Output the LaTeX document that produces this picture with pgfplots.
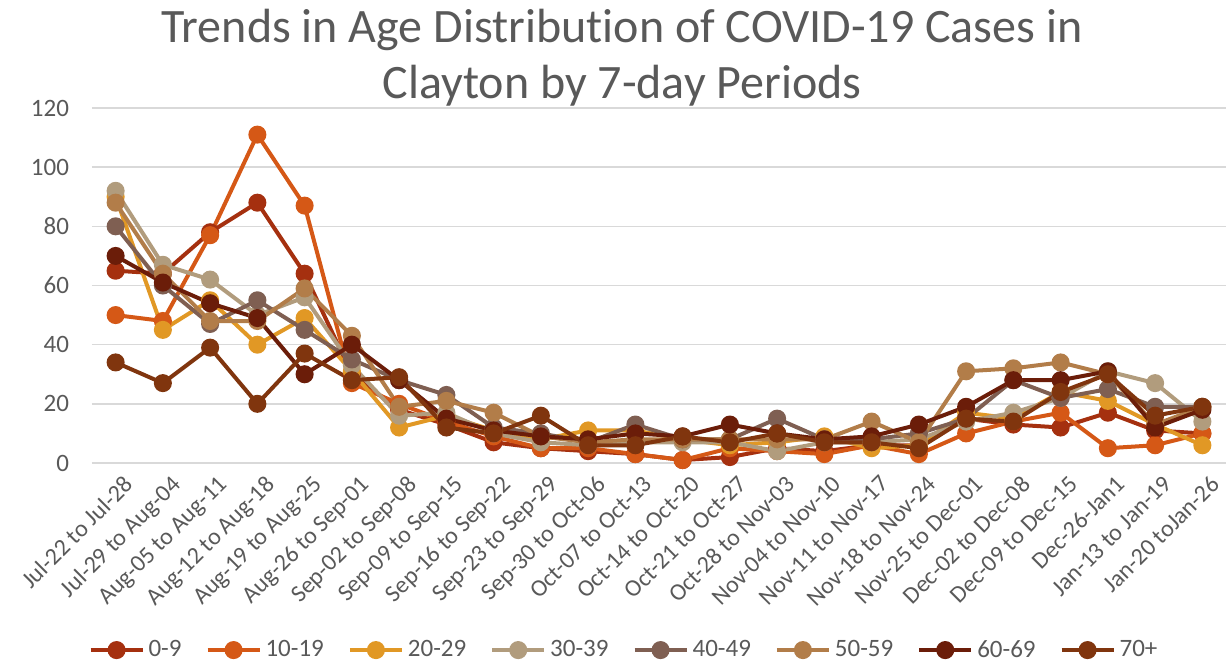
\documentclass[border=0pt]{standalone}
\usepackage{pgfplots}
\pgfplotsset{compat=1.18}
\usepackage{pgfplotstable}
\usepackage{fontspec}
\setmainfont{Carlito}[Ligatures=NoCommon]

\definecolor{txt}{HTML}{595959}
\definecolor{gridc}{HTML}{D9D9D9}
\definecolor{cA}{HTML}{A5300F}
\definecolor{cB}{HTML}{D55816}
\definecolor{cC}{HTML}{E19825}
\definecolor{cD}{HTML}{B19C7D}
\definecolor{cE}{HTML}{7F5F52}
\definecolor{cF}{HTML}{B27D49}
\definecolor{cG}{HTML}{6B1D09}
\definecolor{cH}{HTML}{80350E}

% weekly case counts by age group
\pgfplotstableread{
x  a   b   c   d   e   f   g   h
0  65  50  90  92  80  88  70  34
1  64  48  45  67  60  64  61  27
2  78  77  55  62  47  48  54  39
3  88  111 40  50  55  48  49  20
4  64  87  49  56  45  59  30  37
5  30  27  31  33  35  43  40  28
6  18  20  12  16  28  19  28  29
7  13  14  16  17  23  21  15  12
8  7   9   11  10  12  17  11  10
9  5   5   8   7   10  9   9   16
10 4   5   11  6   7   7   8   6
11 3   3   11  7   13  8   10  6
12 1   1   8   7   8   8   9   9
13 2   5   6   7   8   8   13  7
14 5   4   7   4   15  8   10  10
15 4   3   9   7   8   8   8   7
16 6   6   5   7   8   14  9   7
17 6   3   6   8   10  7   13  5
18 15  10  17  14  15  31  19  15
19 13  14  15  17  28  32  28  14
20 12  17  24  22  22  34  28  24
21 17  5   21  31  25  30  31  30
22 11  6   13  27  19  13  12  16
23 10  10  6   14  19  19  18  19
}\cases

\begin{document}
\begin{tikzpicture}
  \begin{axis}[
    scale only axis,
    width=567pt, height=177.5pt,
    xmin=-0.5, xmax=23.5,
    ymin=0, ymax=120,
    ytick={0,20,...,120},
    xtick={0,...,23},
    xticklabels={Jul-22 to Jul-28, Jul-29 to Aug-04, Aug-05 to Aug-11,
      Aug-12 to Aug-18, Aug-19 to Aug-25, Aug-26 to Sep-01, Sep-02 to Sep-08,
      Sep-09 to Sep-15, Sep-16 to Sep-22, Sep-23 to Sep-29, Sep-30 to Oct-06,
      Oct-07 to Oct-13, Oct-14 to Oct-20, Oct-21 to Oct-27, Oct-28 to Nov-03,
      Nov-04 to Nov-10, Nov-11 to Nov-17, Nov-18 to Nov-24, Nov-25 to Dec-01,
      Dec-02 to Dec-08, Dec-09 to Dec-15, Dec-26-Jan1, Jan-13 to Jan-19,
      Jan-20 toJan-26},
    x tick label style={rotate=45, anchor=north east, xshift=2pt, yshift=-3pt,
      font=\fontsize{12}{14}\selectfont},
    y tick label style={xshift=-8pt, font=\fontsize{12.5}{15}\selectfont},
    tick label style={text=txt},
    /pgf/number format/assume math mode=true,
    major tick length=0pt,
    axis line style={draw=none},
    ymajorgrids,
    grid style={gridc, line width=0.7pt},
    every axis plot/.append style={line width=2pt, mark=*, mark size=3.5pt,
      mark options={solid}},
    legend columns=-1,
    legend style={draw=none, at={(0.47,-0.527)}, anchor=center,
      font=\fontsize{12.5}{15}\selectfont, text=txt,
      /tikz/every even column/.append style={column sep=10pt}},
    legend image code/.code={
      \draw[mark repeat=2, mark phase=2] plot coordinates {(0pt,0pt) (13pt,0pt) (26pt,0pt)};},
  ]
    \addplot[cA] table[x=x, y=a] {\cases};
    \addplot[cB] table[x=x, y=b] {\cases};
    \addplot[cC] table[x=x, y=c] {\cases};
    \addplot[cD] table[x=x, y=d] {\cases};
    \addplot[cE] table[x=x, y=e] {\cases};
    \addplot[cF] table[x=x, y=f] {\cases};
    \addplot[cG] table[x=x, y=g] {\cases};
    \addplot[cH] table[x=x, y=h] {\cases};
    \legend{0-9, 10-19, 20-29, 30-39, 40-49, 50-59, 60-69, 70+}
  \end{axis}
  \node[anchor=base, text=txt, font=\fontsize{24}{28}\selectfont] at (265pt,210pt)
    {Trends in Age Distribution of COVID-19 Cases in};
  \node[anchor=base, text=txt, font=\fontsize{24}{28}\selectfont] at (265pt,182pt)
    {Clayton by 7-day Periods};
  \pgfresetboundingbox
  \path[use as bounding box] (-46pt,-100.5pt) rectangle (567pt,231.5pt);
\end{tikzpicture}
\end{document}
